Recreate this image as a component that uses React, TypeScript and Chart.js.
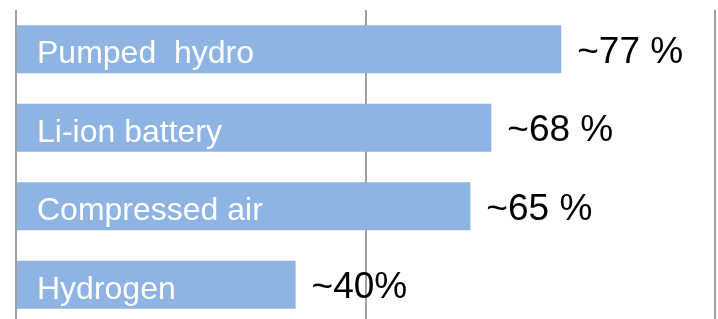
import React, { useEffect, useRef } from "react";
import { Chart, registerables } from "chart.js";

Chart.register(...registerables);

const categories = ["Pumped  hydro", "Li-ion battery", "Compressed air", "Hydrogen"];
const efficiencies = [78, 68, 65, 40];
const valueLabels = ["~77 %", "~68 %", "~65 %", "~40%"];
const xTicks = [0, 50, 100];

const FONT = "'Liberation Sans', Arial, sans-serif";

const labelPlugin = {
  id: "barLabels",
  afterDatasetsDraw(chart: any) {
    const ctx = chart.ctx;
    const meta = chart.getDatasetMeta(0);
    const area = chart.chartArea;
    ctx.save();
    ctx.textAlign = "left";
    ctx.textBaseline = "alphabetic";
    meta.data.forEach((bar: any, i: number) => {
      ctx.fillStyle = "#ffffff";
      ctx.font = `32px ${FONT}`;
      ctx.fillText(categories[i], area.left + 21, bar.y + 14);
      ctx.fillStyle = "#000000";
      ctx.font = `37px ${FONT}`;
      ctx.fillText(valueLabels[i], bar.x + 16, bar.y + 13.5);
    });
    ctx.restore();
  },
};

export default function App() {
  const ref = useRef<HTMLCanvasElement>(null);
  useEffect(() => {
    if (!ref.current) return;
    const chart = new Chart(ref.current, {
      type: "bar",
      data: {
        labels: categories,
        datasets: [
          {
            data: efficiencies,
            backgroundColor: "#8EB4E3",
            borderWidth: 0,
            barPercentage: 0.61,
            categoryPercentage: 1,
          },
        ],
      },
      options: {
        indexAxis: "y",
        animation: false,
        responsive: false,
        maintainAspectRatio: false,
        layout: { padding: { left: 16, right: 3, top: 10, bottom: 0 } },
        plugins: { legend: { display: false }, tooltip: { enabled: false } },
        scales: {
          x: {
            min: 0,
            max: 100,
            afterBuildTicks: (scale: any) => {
              scale.ticks = xTicks.map((v) => ({ value: v }));
            },
            ticks: { display: false },
            grid: { color: "#a0a0a0", lineWidth: 2, drawTicks: false },
            border: { display: false },
          },
          y: {
            display: false,
            offset: true,
          },
        },
      },
      plugins: [labelPlugin],
    });
    return () => chart.destroy();
  }, []);
  return (
    <div style={{ position: "absolute", left: 0, top: 0, width: 718, height: 324 }}>
      <canvas ref={ref} width={718} height={324} />
    </div>
  );
}
